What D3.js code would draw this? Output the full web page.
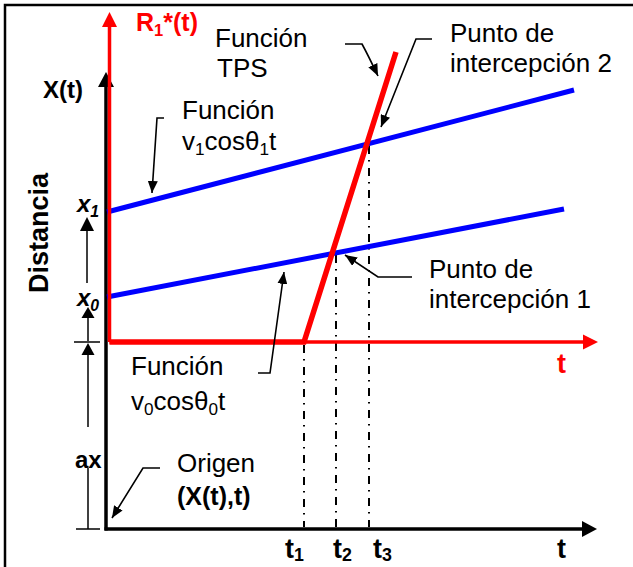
<!DOCTYPE html>
<html>
<head>
<meta charset="utf-8">
<script src="https://cdn.jsdelivr.net/npm/d3@7"></script>
<style>
  body { margin: 0; background: #fff; }
  svg { display: block; }
  text { font-family: "Liberation Sans", Arial, sans-serif; fill: #000; }
</style>
</head>
<body>
<svg id="chart" width="633" height="567"></svg>
<script>
// ---- values (t along the time axis, distance along X(t)) ----
const timeMarks   = [39.4, 45.8, 52.4];          // t1, t2, t3
const timeNames   = ["1", "2", "3"];
const axOffset    = 37.4;                        // ax : origin of R1*(t)
const startX0     = 46.4;                        // x0
const startX1     = 63.4;                        // x1
const funcV0      = [[0, 46.4], [91.4, 64.0]];   // v0 cosθ0 t
const funcV1      = [[0, 63.4], [93.4, 87.8]];   // v1 cosθ1 t
const funcTPS     = [[0, 37.4], [39.4, 37.4], [57.8, 95.4]];
const intercepts  = [[45.8, 55.4], [52.4, 77.2]]; // punto 1, punto 2
const axisLimits  = { tBlack: 98.0, tRed: 98.2, xBlack: 91.4, xRed: 103.4 };

const svg = d3.select("#chart");
const x = d3.scaleLinear().domain([0, 98.2]).range([107, 598]);
const y = d3.scaleLinear().domain([0, 103.4]).range([529, 12]);

const RED = "#ff0000", BLUE = "#0000ff";

// arrowhead marker for the leader lines
svg.append("defs").append("marker")
  .attr("id", "head").attr("markerUnits", "userSpaceOnUse")
  .attr("viewBox", "0 0 12 10").attr("refX", 12).attr("refY", 5)
  .attr("markerWidth", 12).attr("markerHeight", 10).attr("orient", "auto")
  .append("path").attr("d", "M0,0 L12,5 L0,10 Z").attr("fill", "#000");

// frame (top and left edges)
svg.append("path").attr("d", "M5,567 L5,5 L633,5")
  .attr("fill", "none").attr("stroke", "#000").attr("stroke-width", 2.5);

function arrowHead(tipX, tipY, dir, len, half, color) {
  let pts;
  if (dir === "up")    pts = [[tipX, tipY], [tipX - half, tipY + len], [tipX + half, tipY + len]];
  if (dir === "right") pts = [[tipX, tipY], [tipX - len, tipY - half], [tipX - len, tipY + half]];
  svg.append("polygon").attr("points", pts.map(p => p.join(",")).join(" ")).attr("fill", color);
}

// ---- black axes ----
const bx = x(0) - 1;
svg.append("line").attr("x1", bx).attr("x2", bx).attr("y1", y(0) + 1.5).attr("y2", y(axisLimits.xBlack) + 12)
  .attr("stroke", "#000").attr("stroke-width", 3.5);
arrowHead(bx, y(axisLimits.xBlack), "up", 15, 8, "#000");
svg.append("line").attr("x1", bx - 1.5).attr("x2", x(axisLimits.tBlack) - 12).attr("y1", y(0)).attr("y2", y(0))
  .attr("stroke", "#000").attr("stroke-width", 3.5);
arrowHead(x(axisLimits.tBlack), y(0), "right", 15, 8, "#000");

// ---- dash-dot guides down from each time mark ----
const guideTop = [axOffset, intercepts[0][1], intercepts[1][1]];
timeMarks.forEach((t, i) => {
  svg.append("line").attr("x1", x(t)).attr("x2", x(t))
    .attr("y1", y(guideTop[i]) + 3).attr("y2", y(0) - 2)
    .attr("stroke", "#000").attr("stroke-width", 2)
    .attr("stroke-dasharray", "8,6,1.5,6.5");
});

// ---- blue functions ----
const line = d3.line().x(d => x(d[0])).y(d => y(d[1]));
[funcV1, funcV0].forEach(f => {
  svg.append("path").attr("d", line(f)).attr("fill", "none")
    .attr("stroke", BLUE).attr("stroke-width", 5);
});

// ---- red axes of R1*(t) ----
const rx = x(0) + 2.5, ry = y(axOffset);
svg.append("line").attr("x1", rx).attr("x2", rx).attr("y1", ry).attr("y2", y(axisLimits.xRed) + 12)
  .attr("stroke", RED).attr("stroke-width", 3.5);
arrowHead(rx, y(axisLimits.xRed), "up", 15, 7.5, RED);
svg.append("line").attr("x1", rx).attr("x2", x(axisLimits.tRed) - 12).attr("y1", ry).attr("y2", ry)
  .attr("stroke", RED).attr("stroke-width", 3.5);
arrowHead(x(axisLimits.tRed), ry, "right", 15, 7.5, RED);

// ---- TPS function ----
svg.append("path").attr("d", line(funcTPS.map((d, i) => i === 0 ? [d[0] + 0.5, d[1]] : d)))
  .attr("fill", "none").attr("stroke", RED).attr("stroke-width", 5.5).attr("stroke-linejoin", "miter");

// ---- text helper: segments beginning with "_" are subscripts ----
function label(px, py, segs, o = {}) {
  const size = o.size || 26;
  const drop = o.drop != null ? o.drop : 0.2;
  const t = svg.append("text").attr("x", px).attr("y", py)
    .attr("font-size", size)
    .attr("font-weight", o.bold ? "bold" : "normal")
    .attr("font-style", o.italic ? "italic" : "normal")
    .style("fill", o.color || "#000");
  if (o.transform) t.attr("transform", o.transform);
  let shifted = false;
  segs.forEach(s => {
    const sub = s.startsWith("_");
    const ts = t.append("tspan").text(sub ? s.slice(1) : s);
    if (sub) { ts.attr("font-size", size * 0.66).attr("dy", size * drop); shifted = true; }
    else if (shifted) { ts.attr("dy", -size * drop); shifted = false; }
  });
  return t;
}

// axis titles
label(136, 31, ["R", "_1", "*(t)"], { bold: true, size: 25, color: RED });
label(43, 98, ["X(t)"], { bold: true, size: 24 });
label(0, 0, ["Distancia"], { bold: true, size: 27, transform: "translate(48,293) rotate(-90)" });
label(557, 373, ["t"], { bold: true, size: 27, color: RED });
label(557, 558, ["t"], { bold: true, size: 27 });
const timeLabelShift = [-19, -3, 4];
timeMarks.forEach((t, i) => {
  label(x(t) + timeLabelShift[i], 558, ["t", "_" + timeNames[i]], { bold: true, size: 27, drop: 0.12 });
});

// left dimension labels
label(77, y(startX1) + 0, ["x", "_1"], { bold: true, italic: true, size: 24 });
label(77, y(startX0) + 9, ["x", "_0"], { bold: true, italic: true, size: 24 });
label(75, 468, ["ax"], { bold: true, size: 24 });

// dimension arrows on the left
const dimX = 88;
const thin = (x1, y1, x2, y2) => svg.append("line").attr("x1", x1).attr("y1", y1).attr("x2", x2).attr("y2", y2)
  .attr("stroke", "#000").attr("stroke-width", 1.5);
thin(74, y(axOffset), 100, y(axOffset));
thin(76, y(0), 100, y(0));
thin(dimX, y(0), dimX, 468);
thin(dimX, 427, dimX, y(axOffset) + 10);
arrowHead(dimX, y(axOffset) + 1, "up", 12, 6.5, "#000");
thin(dimX, y(axOffset) - 1, dimX, y(startX0) + 20);
arrowHead(dimX, y(startX0) + 10, "up", 11, 6.5, "#000");
thin(dimX - 1, y(startX0) - 14, dimX - 1, y(startX1) + 15);
arrowHead(dimX - 1, y(startX1) + 5, "up", 14, 7, "#000");

// annotations
label(215, 47, ["Función"]);
label(217, 77, ["TPS"]);
label(450, 42, ["Punto de"]);
label(450, 72, ["intercepción 2"]);
label(182, 119, ["Función"]);
label(182, 150, ["v", "_1", "cosθ", "_1", "t"]);
label(429, 278, ["Punto de"]);
label(429, 308, ["intercepción 1"]);
label(131, 375, ["Función"]);
label(131, 410, ["v", "_0", "cosθ", "_0", "t"]);
label(177, 472, ["Origen"]);
label(177, 505, ["(X(t),t)"], { bold: true, size: 25 });

// leader lines with arrowheads
const leaders = [
  "M345,44 L362,44 Q368,55 378,76",
  "M432,39 L416,39 L381,127",
  "M164,118 L157,118 L152,193",
  "M412,277 L378,277 L345,255",
  "M258,373 L270,373 L284,272",
  "M160,468 L143,468 L112,518"
];
leaders.forEach(d => svg.append("path").attr("d", d).attr("fill", "none")
  .attr("stroke", "#000").attr("stroke-width", 1.6).attr("marker-end", "url(#head)"));
</script>
</body>
</html>
